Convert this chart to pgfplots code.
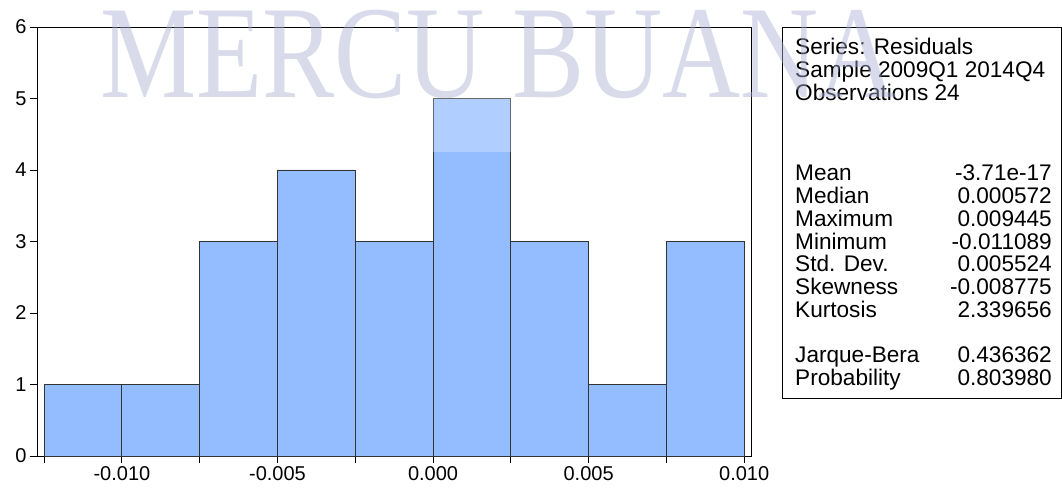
\documentclass[border=0pt]{standalone}
\usepackage{fontspec}
\setmainfont{Liberation Sans}
\newfontfamily\wmfont{Liberation Serif}
\usepackage{pgfplots}
\pgfplotsset{compat=1.18}
\definecolor{barblue}{RGB}{148,189,255}
\definecolor{wmcol}{RGB}{170,176,212}
\begin{document}
\begin{tikzpicture}[x=1pt,y=1pt]
\useasboundingbox (0,0) rectangle (1062,487);
\begin{axis}[
  at={(37pt,31pt)}, anchor=south west,
  scale only axis, width=714pt, height=429pt,
  xmin=-0.01273, xmax=0.01022, ymin=0, ymax=6,
  xtick={-0.01,-0.005,0,0.005,0.01},
  xticklabels={-0.010,-0.005,0.000,0.005,0.010},
  minor xtick={-0.0125,-0.0075,-0.0025,0.0025,0.0075},
  ytick={0,1,2,3,4,5,6},
  yticklabels={0,1,2,3,4,5,6},
  scaled x ticks=false,
  tick align=outside, xtick pos=bottom, ytick pos=left,
  major tick length=7pt, minor tick length=7pt,
  tick style={black, line width=0.9pt},
  axis line style={line width=0.9pt},
  ticklabel style={font=\fontsize{20}{20}\selectfont},
  clip=false,
]
\addplot[ybar interval, fill=barblue, draw=black!80, line width=0.9pt]
  coordinates {(-0.0125,1) (-0.01,1) (-0.0075,3) (-0.005,4) (-0.0025,3)
               (0,5) (0.0025,3) (0.005,1) (0.0075,3) (0.01,3)};
\end{axis}
% light band left by the watermark image
\fill[white, opacity=0.27] (38,335) rectangle (750,459);
% statistics box
\draw[line width=0.9pt] (782,89) rectangle (1061.5,460);
\begin{scope}[every node/.style={inner sep=0, font=\fontsize{22.6}{23}\selectfont}]
\node[anchor=base west] at (795,432) {Series: Residuals};
\node[anchor=base west] at (795,409) {Sample 2009Q1 2014Q4};
\node[anchor=base west] at (795,386.5) {Observations 24};
\foreach \lab/\val/\yy in {Mean/-3.71e-17/181, Median/0.000572/203.7,
    Maximum/0.009445/226.4, Minimum/-0.011089/249.1, Std. Dev./0.005524/271.8,
    Skewness/-0.008775/294.5, Kurtosis/2.339656/317.2,
    Jarque-Bera/0.436362/363, Probability/0.803980/385.7} {
  \node[anchor=base west] at (795,487-\yy) {\lab};
  \node[anchor=base east] at (1052,487-\yy) {\val};
}
\end{scope}
% watermark
\node[anchor=base west, inner sep=0, text=wmcol, opacity=0.45, xscale=0.82]
  at (100,389) {\wmfont\fontsize{132}{132}\selectfont MERCU BUANA};
\end{tikzpicture}
\end{document}
